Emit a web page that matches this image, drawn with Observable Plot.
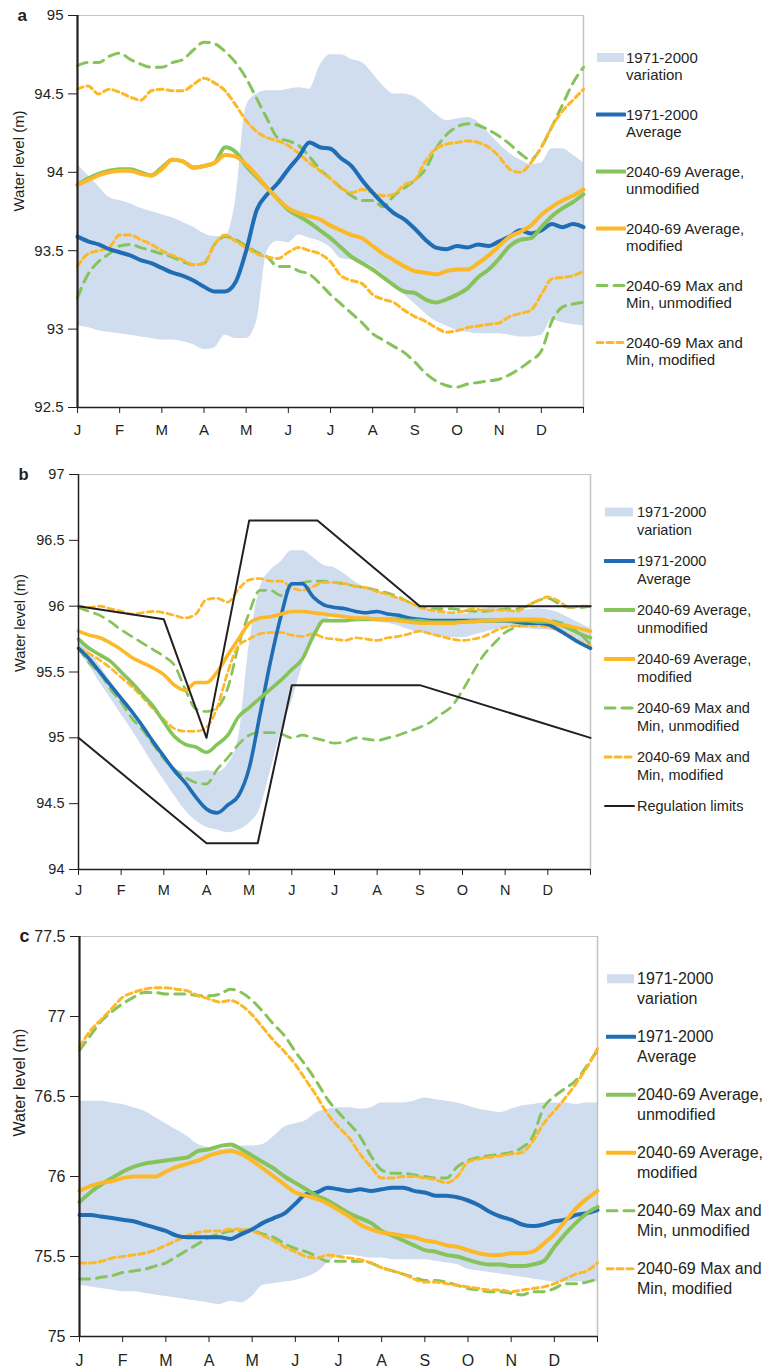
<!DOCTYPE html>
<html>
<head>
<meta charset="utf-8">
<script src="https://cdn.jsdelivr.net/npm/d3@7"></script>
<script src="https://cdn.jsdelivr.net/npm/@observablehq/plot@0.6"></script>
<style>
  html, body { margin: 0; padding: 0; background: #fff; }
  #root { position: relative; width: 769px; height: 1372px; overflow: hidden;
          font-family: "Liberation Sans", Arial, Helvetica, sans-serif; color: #231f20; }
  .panel { position: absolute; left: 0; }
</style>
</head>
<body>
<div id="root"></div>
<script>
// Time axis: quarter-month steps through the year (0 = 1 Jan, 12 = 31 Dec)
const monthGrid = [0,0.25,0.5,0.75,1,1.25,1.5,1.75,2,2.25,2.5,2.75,3,3.25,3.5,3.75,4,4.25,4.5,4.75,5,5.25,5.5,5.75,6,6.25,6.5,6.75,7,7.25,7.5,7.75,8,8.25,8.5,8.75,9,9.25,9.5,9.75,10,10.25,10.5,10.75,11,11.25,11.5,11.75,12];
const monthTicks = [0,1,2,3,4,5,6,7,8,9,10,11,12];
const monthLabels = ["J","F","M","A","M","J","J","A","S","O","N","D"];

// ---- Panel a ----
const aTicks = [92.5, 93, 93.5, 94, 94.5, 95];
const aBandLo = [93.02,93.01,92.99,92.98,92.97,92.96,92.95,92.94,92.93,92.93,92.92,92.9,92.87,92.88,92.96,92.94,92.94,93.05,93.5,93.56,93.55,93.6,93.58,93.56,93.52,93.45,93.44,93.43,93.4,93.35,93.28,93.22,93.16,93.1,93.05,93.02,92.99,92.98,92.97,92.97,92.97,92.96,92.95,92.95,92.96,93.06,93.04,93.03,93.02];
const aBandHi = [94.05,93.98,93.91,93.84,93.82,93.8,93.77,93.75,93.73,93.71,93.68,93.65,93.61,93.59,93.59,93.82,94.42,94.5,94.52,94.52,94.53,94.54,94.53,94.68,94.75,94.75,94.72,94.7,94.63,94.55,94.5,94.5,94.48,94.43,94.37,94.33,94.34,94.35,94.32,94.25,94.18,94.12,94.08,94.05,94.06,94.15,94.15,94.11,94.06];
const aAvg1971 = [93.59,93.56,93.54,93.51,93.49,93.47,93.44,93.42,93.39,93.36,93.34,93.31,93.27,93.24,93.24,93.3,93.5,93.76,93.86,93.93,94.02,94.1,94.19,94.16,94.15,94.09,94.04,93.95,93.87,93.8,93.74,93.7,93.64,93.57,93.52,93.51,93.53,93.52,93.54,93.53,93.56,93.59,93.63,93.61,93.63,93.67,93.65,93.67,93.65];
const aAvgUnmod = [93.92,93.96,93.99,94.01,94.02,94.02,94.0,93.98,94.03,94.08,94.07,94.03,94.04,94.06,94.16,94.13,94.04,93.97,93.9,93.83,93.76,93.72,93.68,93.63,93.58,93.52,93.46,93.42,93.38,93.33,93.28,93.24,93.23,93.19,93.17,93.19,93.22,93.26,93.33,93.38,93.45,93.53,93.57,93.58,93.65,93.72,93.77,93.81,93.86];
const aAvgMod = [93.92,93.95,93.98,94.0,94.01,94.01,93.99,93.98,94.02,94.08,94.07,94.03,94.04,94.06,94.11,94.1,94.05,93.98,93.9,93.83,93.77,93.74,93.72,93.7,93.66,93.63,93.6,93.58,93.53,93.48,93.44,93.4,93.37,93.36,93.35,93.37,93.38,93.38,93.42,93.47,93.53,93.59,93.62,93.66,93.73,93.78,93.82,93.85,93.89];
const aMaxUnmod = [94.68,94.7,94.7,94.74,94.76,94.72,94.69,94.67,94.67,94.7,94.72,94.78,94.83,94.82,94.77,94.7,94.6,94.47,94.34,94.22,94.2,94.17,94.1,94.02,93.96,93.9,93.85,93.82,93.82,93.78,93.85,93.9,93.95,94.02,94.15,94.24,94.29,94.31,94.3,94.27,94.23,94.18,94.12,94.08,94.16,94.29,94.43,94.57,94.67];
const aMaxMod = [94.53,94.55,94.5,94.53,94.51,94.48,94.46,94.52,94.53,94.52,94.52,94.56,94.6,94.57,94.52,94.43,94.33,94.26,94.22,94.2,94.17,94.12,94.06,94.01,93.96,93.9,93.87,93.89,93.87,93.85,93.86,93.92,93.95,94.07,94.15,94.18,94.19,94.2,94.19,94.16,94.1,94.02,94.0,94.06,94.16,94.29,94.39,94.46,94.53];
const aMinUnmod = [93.2,93.35,93.43,93.48,93.53,93.54,93.52,93.5,93.48,93.46,93.43,93.41,93.42,93.54,93.59,93.57,93.53,93.49,93.46,93.4,93.4,93.37,93.35,93.29,93.22,93.16,93.1,93.04,92.97,92.93,92.89,92.85,92.79,92.72,92.67,92.64,92.63,92.65,92.66,92.67,92.68,92.71,92.75,92.8,92.86,93.05,93.14,93.16,93.17];
const aMinMod = [93.4,93.48,93.5,93.52,93.6,93.6,93.57,93.54,93.5,93.47,93.44,93.41,93.42,93.54,93.6,93.56,93.52,93.48,93.46,93.45,93.49,93.52,93.5,93.48,93.43,93.34,93.31,93.29,93.22,93.19,93.17,93.12,93.08,93.05,93.01,92.98,92.99,93.01,93.02,93.03,93.04,93.08,93.1,93.12,93.22,93.32,93.33,93.34,93.37];

// ---- Panel b ----
const bTicks = [94, 94.5, 95, 95.5, 96, 96.5, 97];
const bBandLo = [95.66,95.55,95.42,95.3,95.18,95.06,94.93,94.8,94.68,94.56,94.45,94.37,94.32,94.3,94.28,94.3,94.35,94.46,94.75,95.05,95.28,95.55,95.78,95.88,95.92,95.92,95.9,95.9,95.88,95.87,95.85,95.82,95.8,95.78,95.77,95.76,95.76,95.78,95.8,95.82,95.83,95.84,95.83,95.82,95.82,95.8,95.76,95.72,95.66];
const bBandHi = [95.75,95.66,95.55,95.43,95.32,95.2,95.08,94.96,94.85,94.77,94.74,94.74,94.75,94.74,94.8,95.0,95.7,96.13,96.27,96.34,96.42,96.42,96.37,96.31,96.29,96.24,96.18,96.14,96.12,96.09,96.06,96.02,95.99,95.97,95.95,95.94,95.94,95.95,95.98,95.99,95.98,95.97,95.97,95.98,95.97,95.95,95.91,95.87,95.83];
const bAvg1971 = [95.68,95.6,95.5,95.4,95.3,95.2,95.09,94.97,94.86,94.75,94.66,94.55,94.46,94.43,94.49,94.56,94.77,95.17,95.58,95.93,96.17,96.17,96.07,96.01,95.99,95.98,95.96,95.95,95.96,95.94,95.93,95.91,95.9,95.89,95.89,95.89,95.89,95.89,95.89,95.89,95.89,95.88,95.87,95.87,95.86,95.82,95.77,95.72,95.68];
const bAvgUnmod = [95.75,95.68,95.63,95.58,95.5,95.42,95.33,95.24,95.12,95.01,94.95,94.93,94.89,94.95,95.02,95.16,95.23,95.3,95.37,95.44,95.52,95.6,95.77,95.89,95.89,95.89,95.9,95.9,95.9,95.9,95.9,95.89,95.89,95.88,95.88,95.88,95.88,95.89,95.89,95.89,95.89,95.89,95.89,95.88,95.88,95.86,95.83,95.79,95.76];
const bAvgMod = [95.81,95.78,95.76,95.72,95.67,95.61,95.57,95.53,95.48,95.4,95.36,95.42,95.42,95.5,95.63,95.75,95.87,95.91,95.92,95.94,95.96,95.96,95.95,95.94,95.93,95.92,95.91,95.91,95.9,95.9,95.89,95.88,95.87,95.87,95.87,95.87,95.88,95.88,95.89,95.89,95.9,95.9,95.9,95.9,95.89,95.86,95.85,95.83,95.81];
const bMaxUnmod = [95.99,95.96,95.93,95.88,95.82,95.77,95.72,95.67,95.62,95.55,95.37,95.22,95.2,95.23,95.38,95.7,95.95,96.12,96.12,96.08,96.16,96.18,96.19,96.19,96.18,96.17,96.15,96.14,96.12,96.1,96.07,96.03,96.0,95.98,95.98,95.98,95.97,95.96,95.96,95.97,95.98,95.98,96.0,96.04,96.06,96.02,95.99,95.99,96.0];
const bMaxMod = [96.0,95.99,96.0,95.98,95.96,95.94,95.95,95.96,95.95,95.93,95.91,95.94,96.05,96.06,96.03,96.13,96.2,96.21,96.19,96.19,96.14,96.12,96.15,96.18,96.18,96.17,96.15,96.14,96.11,96.09,96.06,96.03,95.99,95.97,95.96,95.95,95.96,95.98,95.97,95.97,95.97,95.96,96.0,96.04,96.07,96.04,95.99,96.0,96.0];
const bMinUnmod = [95.68,95.57,95.49,95.37,95.27,95.15,95.06,94.95,94.84,94.76,94.7,94.66,94.65,94.76,94.85,94.95,95.02,95.04,95.04,95.03,95.0,95.02,95.0,94.98,94.96,94.97,95.0,94.99,94.98,95.0,95.02,95.05,95.08,95.12,95.18,95.24,95.36,95.5,95.63,95.72,95.8,95.84,95.86,95.88,95.89,95.88,95.85,95.79,95.71];
const bMinMod = [95.68,95.64,95.59,95.53,95.46,95.39,95.31,95.22,95.14,95.07,95.05,95.05,95.08,95.23,95.5,95.7,95.75,95.79,95.8,95.8,95.78,95.77,95.79,95.76,95.75,95.74,95.76,95.75,95.74,95.76,95.77,95.79,95.81,95.79,95.77,95.75,95.74,95.75,95.77,95.81,95.84,95.85,95.85,95.85,95.84,95.82,95.78,95.73,95.7];
// Regulation limits (upper and lower bounds)
const regUpperMonth = [0, 2, 3, 4, 5.6, 8, 12];
const regUpper = [96.0, 95.9, 95.0, 96.65, 96.65, 96.0, 96.0];
const regLowerMonth = [0, 3, 4.2, 5, 8, 12];
const regLower = [95.0, 94.2, 94.2, 95.4, 95.4, 95.0];

// ---- Panel c ----
const cTicks = [75, 75.5, 76, 76.5, 77, 77.5];
const cBandLo = [75.32,75.31,75.3,75.29,75.28,75.28,75.27,75.26,75.25,75.24,75.23,75.22,75.21,75.2,75.22,75.21,75.25,75.32,75.33,75.34,75.35,75.37,75.4,75.46,75.5,75.51,75.5,75.49,75.49,75.48,75.48,75.48,75.48,75.47,75.46,75.45,75.42,75.41,75.4,75.39,75.38,75.37,75.36,75.35,75.34,75.34,75.34,75.34,75.34];
const cBandHi = [76.47,76.47,76.47,76.46,76.45,76.43,76.41,76.37,76.33,76.29,76.25,76.2,76.18,76.17,76.18,76.19,76.19,76.2,76.25,76.31,76.33,76.35,76.4,76.42,76.43,76.43,76.42,76.43,76.46,76.46,76.46,76.47,76.49,76.48,76.47,76.46,76.44,76.42,76.41,76.4,76.42,76.44,76.45,76.46,76.46,76.46,76.45,76.46,76.46];
const cAvg1971 = [75.76,75.76,75.75,75.74,75.73,75.72,75.7,75.68,75.66,75.63,75.62,75.62,75.62,75.62,75.61,75.64,75.67,75.71,75.74,75.77,75.83,75.89,75.9,75.93,75.92,75.91,75.92,75.91,75.92,75.93,75.93,75.91,75.9,75.88,75.88,75.87,75.85,75.82,75.78,75.75,75.73,75.7,75.69,75.7,75.72,75.73,75.76,75.77,75.79];
const cAvgUnmod = [75.84,75.9,75.95,75.99,76.03,76.06,76.08,76.09,76.1,76.11,76.12,76.16,76.17,76.19,76.2,76.17,76.13,76.09,76.05,76.0,75.96,75.92,75.88,75.85,75.81,75.77,75.74,75.71,75.66,75.63,75.6,75.57,75.54,75.53,75.51,75.5,75.48,75.46,75.45,75.45,75.44,75.44,75.45,75.47,75.56,75.64,75.71,75.77,75.81];
const cAvgMod = [75.91,75.94,75.96,75.97,75.99,76.0,76.0,76.0,76.03,76.06,76.08,76.1,76.13,76.15,76.16,76.14,76.1,76.05,76.0,75.95,75.9,75.88,75.86,75.83,75.79,75.75,75.7,75.67,75.65,75.64,75.63,75.62,75.6,75.59,75.57,75.56,75.54,75.52,75.51,75.51,75.52,75.52,75.53,75.58,75.64,75.72,75.8,75.86,75.91];
const cMaxUnmod = [76.79,76.88,76.97,77.03,77.08,77.12,77.15,77.15,77.14,77.14,77.14,77.13,77.13,77.14,77.17,77.15,77.1,77.03,76.95,76.88,76.78,76.69,76.59,76.48,76.4,76.33,76.25,76.13,76.04,76.02,76.02,76.01,76.0,75.99,75.99,76.06,76.1,76.12,76.13,76.14,76.15,76.18,76.25,76.43,76.5,76.55,76.6,76.69,76.79];
const cMaxMod = [76.81,76.91,76.98,77.05,77.12,77.15,77.17,77.18,77.18,77.17,77.16,77.13,77.11,77.09,77.1,77.07,77.01,76.93,76.85,76.78,76.7,76.6,76.5,76.39,76.31,76.24,76.14,76.06,75.99,75.99,76.0,76.0,75.99,75.98,75.96,76.0,76.09,76.11,76.12,76.13,76.14,76.15,76.22,76.33,76.41,76.49,76.58,76.68,76.8];
const cMinUnmod = [75.36,75.36,75.37,75.38,75.4,75.41,75.42,75.44,75.46,75.5,75.54,75.58,75.62,75.64,75.66,75.66,75.66,75.64,75.62,75.58,75.55,75.53,75.5,75.47,75.47,75.47,75.47,75.46,75.43,75.41,75.39,75.37,75.35,75.35,75.34,75.32,75.3,75.29,75.28,75.28,75.27,75.26,75.28,75.28,75.3,75.33,75.33,75.34,75.36];
const cMinMod = [75.46,75.46,75.47,75.49,75.5,75.51,75.52,75.54,75.57,75.6,75.63,75.65,75.66,75.66,75.67,75.67,75.66,75.63,75.6,75.56,75.53,75.5,75.49,75.51,75.5,75.49,75.48,75.46,75.43,75.41,75.39,75.36,75.34,75.34,75.33,75.32,75.31,75.3,75.29,75.29,75.28,75.29,75.3,75.31,75.33,75.36,75.39,75.41,75.46];

// Legend text
const legendLabels = [
  ["1971-2000", "variation"],
  ["1971-2000", "Average"],
  ["2040-69 Average,", "unmodified"],
  ["2040-69 Average,", "modified"],
  ["2040-69 Max and", "Min, unmodified"],
  ["2040-69 Max and", "Min, modified"]
];
const regulationLabel = ["Regulation limits"];

// ---- Styling ----
const ink = "#231f20";
const frameGray = "#c3c3c3";
const fontFamily = '"Liberation Sans", Arial, Helvetica, sans-serif';
const seriesStyle = {
  band:     {kind: "band", fill: "#cfddee"},
  avg1971:  {kind: "line", stroke: "#1f6db5", width: 4},
  avgUnmod: {kind: "line", stroke: "#86c35b", width: 4},
  avgMod:   {kind: "line", stroke: "#fdb827", width: 4},
  extUnmod: {kind: "line", stroke: "#86c35b", width: 3, dash: "10,7"},
  extMod:   {kind: "line", stroke: "#fdb827", width: 3, dash: "6,4"},
  reg:      {kind: "line", stroke: ink, width: 2}
};

const root = document.getElementById("root");

function line(values, xs, s, w) {
  return Plot.lineY(values, {
    x: xs, stroke: s.stroke, strokeWidth: w ?? s.width,
    strokeDasharray: s.dash, curve: "monotone-x", strokeLinejoin: "round"
  });
}

function drawPanel(p) {
  const [y0, y1] = p.yDomain;
  const w = p.lineScale ?? 1;
  const marks = [
    Plot.areaY(monthGrid, {x: monthGrid, y1: p.band[0], y2: p.band[1], fill: seriesStyle.band.fill, curve: "monotone-x"}),
    // frame: light top and right edges, dark left and bottom axes
    Plot.ruleY([y1], {stroke: frameGray, strokeWidth: 1.2}),
    Plot.ruleX([12], {stroke: frameGray, strokeWidth: 1.5}),
    line(p.maxUnmod, monthGrid, seriesStyle.extUnmod, 3 * w),
    line(p.minUnmod, monthGrid, seriesStyle.extUnmod, 3 * w),
    line(p.maxMod, monthGrid, seriesStyle.extMod, 3 * w),
    line(p.minMod, monthGrid, seriesStyle.extMod, 3 * w),
    line(p.avg1971, monthGrid, seriesStyle.avg1971, 4 * w),
    line(p.avgUnmod, monthGrid, seriesStyle.avgUnmod, 4 * w),
    line(p.avgMod, monthGrid, seriesStyle.avgMod, 4 * w)
  ];
  if (p.reg) {
    for (const [xs, ys] of p.reg) {
      marks.push(Plot.lineY(ys, {x: xs, stroke: seriesStyle.reg.stroke, strokeWidth: seriesStyle.reg.width}));
    }
  }
  marks.push(
    Plot.ruleX([0], {stroke: ink, strokeWidth: p.axisWidth}),
    Plot.ruleY([y0], {stroke: ink, strokeWidth: 1.5}),
    Plot.axisY({ticks: p.yTicks, tickSize: 9, tickPadding: 5, tickFormat: d => String(d), label: null, stroke: ink}),
    Plot.axisX({ticks: monthTicks, tickSize: 6, tickPadding: p.xPad, tickFormat: d => monthLabels[d] ?? "", label: null, stroke: ink}),
    Plot.text(["Water level (m)"], {text: d => d, frameAnchor: "left", dx: p.yLabelDx, rotate: -90, fill: ink, fontSize: p.fs}),
    Plot.text([p.letter], {text: d => d, frameAnchor: "top-left", dx: -60, lineAnchor: "middle", fontWeight: "bold", fill: ink, fontSize: p.fs + 2})
  );

  const chart = Plot.plot({
    width: 769, height: p.height,
    marginTop: p.mt, marginBottom: p.mb, marginLeft: p.ml, marginRight: p.mr,
    x: {domain: [0, 12]},
    y: {domain: p.yDomain},
    style: {fontFamily, fontSize: p.fs + "px", color: ink, background: "transparent", overflow: "visible"},
    marks
  });
  const holder = document.createElement("div");
  holder.className = "panel";
  holder.style.top = p.top + "px";
  holder.appendChild(chart);
  root.appendChild(holder);

  drawLegend(p.legend);
}

function swatchSvg(s, w, h) {
  const mid = h / 2;
  if (s.kind === "band") {
    return `<svg width="${w}" height="${h}"><rect x="1" y="${mid - 4.5}" width="${w - 3}" height="9" fill="${s.fill}"/></svg>`;
  }
  return `<svg width="${w}" height="${h}"><line x1="1" x2="${w - 1}" y1="${mid}" y2="${mid}" stroke="${s.stroke}" stroke-width="${s.width}"${s.dash ? ` stroke-dasharray="${s.dash}"` : ""} stroke-linecap="round"/></svg>`;
}

function drawLegend(lg) {
  lg.entries.forEach(([labelLines, style], k) => {
    const top = lg.first + k * lg.step - lg.lh / 2;
    const item = document.createElement("div");
    item.style.cssText = `position:absolute;left:0;top:${top}px;`;
    item.innerHTML =
      `<div style="position:absolute;left:${lg.swX}px;top:0">${swatchSvg(style, lg.swW, lg.lh)}</div>` +
      `<div style="position:absolute;left:${lg.txtX}px;top:0;font-size:${lg.fs}px;line-height:${lg.lh}px;white-space:nowrap">${labelLines.join("<br>")}</div>`;
    root.appendChild(item);
  });
}

const baseEntries = [
  [legendLabels[0], seriesStyle.band],
  [legendLabels[1], seriesStyle.avg1971],
  [legendLabels[2], seriesStyle.avgUnmod],
  [legendLabels[3], seriesStyle.avgMod],
  [legendLabels[4], seriesStyle.extUnmod],
  [legendLabels[5], seriesStyle.extMod]
];

drawPanel({
  letter: "a", top: 0, height: 440, mt: 15, mb: 33, ml: 77, mr: 186,
  yDomain: [92.5, 95], yTicks: aTicks, fs: 15, xPad: 11, yLabelDx: -58, axisWidth: 2.2,
  band: [aBandLo, aBandHi], avg1971: aAvg1971, avgUnmod: aAvgUnmod, avgMod: aAvgMod,
  maxUnmod: aMaxUnmod, minUnmod: aMinUnmod, maxMod: aMaxMod, minMod: aMinMod,
  legend: {entries: baseEntries, swX: 596, swW: 30, txtX: 626, first: 57, step: 57, lh: 17, fs: 15}
});

drawPanel({
  letter: "b", top: 440, height: 460, mt: 34, mb: 31, ml: 78, mr: 179,
  yDomain: [94, 97], yTicks: bTicks, fs: 14.5, xPad: 9, yLabelDx: -58, axisWidth: 1.5, lineScale: 0.9,
  band: [bBandLo, bBandHi], avg1971: bAvg1971, avgUnmod: bAvgUnmod, avgMod: bAvgMod,
  maxUnmod: bMaxUnmod, minUnmod: bMinUnmod, maxMod: bMaxMod, minMod: bMinMod,
  reg: [[regUpperMonth, regUpper], [regLowerMonth, regLower]],
  legend: {entries: [...baseEntries, [regulationLabel, seriesStyle.reg]], swX: 604, swW: 31, txtX: 637, first: 512, step: 49, lh: 18, fs: 14.5}
});

drawPanel({
  letter: "c", top: 900, height: 472, mt: 36, mb: 36, ml: 79, mr: 172,
  yDomain: [75, 77.5], yTicks: cTicks, fs: 16, xPad: 12, yLabelDx: -60, axisWidth: 2.2,
  band: [cBandLo, cBandHi], avg1971: cAvg1971, avgUnmod: cAvgUnmod, avgMod: cAvgMod,
  maxUnmod: cMaxUnmod, minUnmod: cMinUnmod, maxMod: cMaxMod, minMod: cMinMod,
  legend: {entries: baseEntries, swX: 606, swW: 30, txtX: 637, first: 979, step: 58, lh: 19.5, fs: 16}
});
</script>
</body>
</html>
